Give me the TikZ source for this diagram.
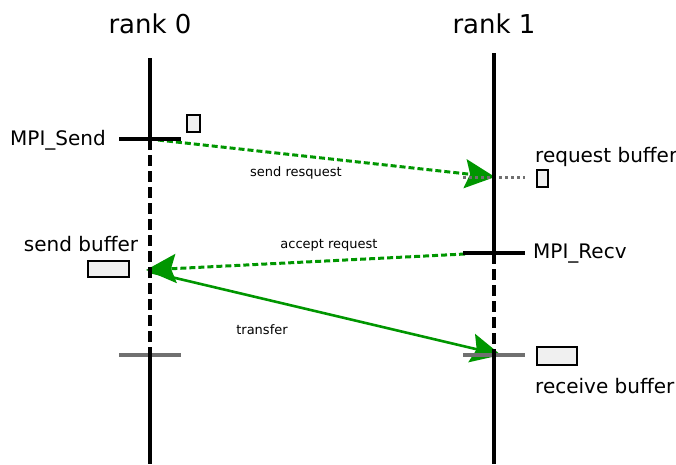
\documentclass[tikz,border=0pt]{standalone}
\usepackage{fontspec}
\setmainfont{DejaVu Sans}
\usetikzlibrary{arrows.meta}
\definecolor{msggreen}{RGB}{0,150,0}
\definecolor{tickgray}{RGB}{112,112,112}
\definecolor{buffill}{RGB}{240,240,240}

\begin{document}
\begin{tikzpicture}[x=1pt,y=-1pt,
  lifeline/.style={line width=3.8pt},
  waitline/.style={line width=3.8pt, dash pattern=on 11pt off 5pt},
  calltick/.style={line width=3.2pt},
  donetick/.style={line width=3.2pt, draw=tickgray},
  buf/.style={draw, line width=2.4pt, fill=buffill, inner sep=0pt},
  title/.style={font=\fontsize{26}{30}\selectfont, inner sep=0pt},
  lbl/.style={font=\fontsize{20}{24}\selectfont, inner sep=0pt},
  msg/.style={font=\fontsize{13}{16}\selectfont, inner sep=0pt},
  bigtip/.style={-{Stealth[length=30pt,width=29pt,inset=5pt]}},
  request/.style={draw=msggreen, line width=3pt, dash pattern=on 6pt off 3pt, bigtip},
  transfer/.style={draw=msggreen, line width=2.6pt, bigtip},
  bufline/.style={draw=tickgray, line width=3pt, dash pattern=on 3pt off 3pt}]

\useasboundingbox (0,0) rectangle (676,464);

% lifeline end points
\coordinate (l0top) at (150,58);
\coordinate (l0a) at (150,139);
\coordinate (l0b) at (150,355);
\coordinate (l0bot) at (150,464);
\coordinate (l1top) at (494,53);
\coordinate (l1a) at (494,253);
\coordinate (l1b) at (494,355);
\coordinate (l1bot) at (494,464);

% titles
\node[title, anchor=base] (rank0) at (150,33) {rank 0};
\node[title, anchor=base] (rank1) at (494,33) {rank 1};

% messages (drawn first, so the lifelines and ticks lie on top)
\coordinate (m1s) at (158,140);
\coordinate (m1e) at (495,177);
\coordinate (m2s) at (465,254);
\coordinate (m2e) at (146,270);
\coordinate (m3s) at (150,272);
\coordinate (m3e) at (501,355);
\draw[request] (m1s) -- (m1e);
\draw[request] (m2s) -- (m2e);
\draw[transfer] (m3s) -- (m3e);

\node[msg, anchor=base] (sendreqlbl) at (296,176) {send resquest};
\node[msg, anchor=base] (acceptlbl) at (329,248) {accept request};
\node[msg, anchor=base] (transferlbl) at (262,334) {transfer};

% request buffer line
\coordinate (rbL) at (463,177);
\coordinate (rbR) at (525,177);
\draw[bufline] (rbL) -- (rbR);

% call ticks
\coordinate (sendL) at (119,139);
\coordinate (sendR) at (181,139);
\coordinate (recvL) at (463,253);
\coordinate (recvR) at (525,253);
\coordinate (done0L) at (119,355);
\coordinate (done0R) at (181,355);
\coordinate (done1L) at (463,355);
\coordinate (done1R) at (525,355);
\draw[calltick] (sendL) -- (sendR);
\draw[calltick] (recvL) -- (recvR);
\draw[donetick] (done0L) -- (done0R);
\draw[donetick] (done1L) -- (done1R);

% lifelines: solid while running, dashed while blocked
\draw[lifeline] (l0top) -- (l0a);
\draw[waitline] (l0a) -- (l0b);
\draw[lifeline] (l0b) -- (l0bot);
\draw[lifeline] (l1top) -- (l1a);
\draw[waitline] (l1a) -- (l1b);
\draw[lifeline] (l1b) -- (l1bot);

% labels
\node[lbl, anchor=base west] (mpisend) at (10,145) {MPI\_Send};
\node[lbl, anchor=base west] (mpirecv) at (533,258) {MPI\_Recv};
\node[lbl, anchor=base west] (reqbuflbl) at (535,162) {request buffer};
\node[lbl, anchor=base] (sendbuflbl) at (81,251) {send buffer};
\node[lbl, anchor=base west] (recvbuflbl) at (535,393) {receive buffer};

% buffers
\node[buf, minimum width=13pt, minimum height=17pt] (sendreq) at (193.5,123.5) {};
\node[buf, minimum width=11pt, minimum height=17pt] (reqbuf) at (542.5,178.5) {};
\node[buf, minimum width=41pt, minimum height=16pt] (sendbuf) at (108.5,269) {};
\node[buf, minimum width=40pt, minimum height=18pt] (recvbuf) at (557,356) {};
\end{tikzpicture}
\end{document}
